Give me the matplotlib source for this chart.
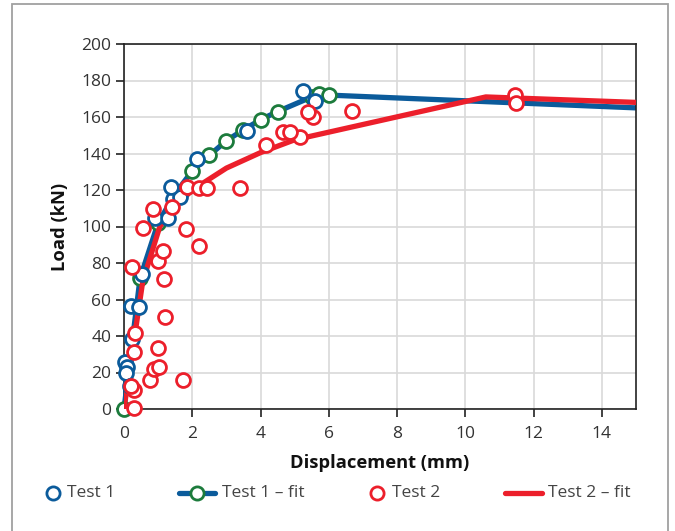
import matplotlib
matplotlib.use("Agg")
import matplotlib.pyplot as plt
from matplotlib.lines import Line2D
from matplotlib.patches import Rectangle

plt.rcParams['font.family'] = ['Open Sans', 'DejaVu Sans']

# Test 1 measured points
t1_x = [0.03, 0.10, 0.06, 0.18, 0.22, 0.20, 0.45, 0.52, 0.91, 1.30, 1.43, 1.64, 1.38, 2.15, 3.60, 5.23, 5.60]
t1_y = [25.6, 23.0, 19.5, 12.8, 38.4, 56.6, 56.0, 74.0, 104.5, 104.5, 115.0, 116.0, 121.8, 137.0, 152.5, 174.0, 169.0]

# Test 1 fit (line with markers), ending segment without marker
t1fit_x = [0.0, 0.47, 1.0, 1.5, 2.0, 2.5, 3.0, 3.5, 4.0, 4.5, 5.5, 5.7, 6.0]
t1fit_y = [0.0, 71.6, 102.0, 118.0, 130.5, 139.0, 147.0, 153.0, 158.5, 163.0, 171.0, 172.5, 172.0]
t1fit_end_x = [6.0, 15.0]
t1fit_end_y = [172.0, 165.0]

# Test 2 measured points
t2_x = [0.29, 0.29, 0.20, 0.76, 1.74, 0.89, 1.03, 0.29, 1.00, 0.32, 1.20, 1.18, 0.22, 1.00, 1.13,
        2.20, 1.82, 0.57, 0.84, 1.42, 1.84, 2.20, 2.44, 3.40, 4.16, 5.16, 4.67, 4.86, 5.53, 5.40,
        6.67, 11.46, 11.49]
t2_y = [0.7, 10.4, 12.6, 15.9, 15.9, 21.7, 23.2, 31.4, 33.2, 41.5, 50.6, 71.0, 78.0, 81.3, 86.8,
        89.3, 98.5, 99.4, 109.4, 110.9, 121.5, 121.0, 121.0, 121.0, 144.7, 149.2, 151.6, 151.6, 159.8, 162.6,
        163.5, 172.0, 167.8]

# Test 2 fit
t2fit_x = [0.0, 0.15, 0.32, 0.55, 1.05, 1.5, 2.0, 3.0, 4.0, 5.0, 10.6, 15.0]
t2fit_y = [0.0, 20.0, 41.0, 70.0, 100.0, 111.0, 120.0, 132.0, 140.5, 147.5, 171.0, 168.0]

legend_labels = ['Test 1', 'Test 1 \u2013 fit', 'Test 2', 'Test 2 \u2013 fit']

blue = '#0b5b9b'
green = '#1c7b3c'
red = '#ec1f2b'

W, H = 675, 531
fig = plt.figure(figsize=(W / 100, H / 100), dpi=100)
fig.patches.append(Rectangle((12 / W, -0.02), (668 - 12) / W, (H - 4) / H + 0.02,
                             transform=fig.transFigure, fill=False, edgecolor='#a0a0a0', lw=1.3))
ax = fig.add_axes([124 / W, (H - 409) / H, (636 - 124) / W, (409 - 44) / H])

ms = 10
mew = 2.0
lw = 3.8
ax.plot(t1fit_end_x, t1fit_end_y, color=blue, lw=lw, zorder=2, solid_capstyle='butt')
ax.plot(t1fit_x, t1fit_y, color=blue, lw=lw, marker='o', ms=ms, mfc='white', mec=green, mew=mew,
        zorder=3, clip_on=False)
ax.plot(t2fit_x, t2fit_y, color=red, lw=lw, zorder=4, solid_capstyle='butt')
ax.plot(t1_x, t1_y, ls='none', marker='o', ms=ms, mfc='white', mec=blue, mew=mew, zorder=5, clip_on=False)
ax.plot(t2_x, t2_y, ls='none', marker='o', ms=ms, mfc='white', mec=red, mew=mew, zorder=6, clip_on=False)

ax.set_xlim(0, 15)
ax.set_ylim(0, 200)
ax.set_xticks(range(0, 15, 2))
ax.set_yticks(range(0, 201, 20))
ax.grid(True, color='#d9d9d9', lw=1.2)
ax.set_axisbelow(True)
for s in ax.spines.values():
    s.set_color('#222222')
    s.set_linewidth(1.2)
ax.tick_params(direction='out', length=6, width=1.2, color='#222222', labelsize=12.5,
               labelcolor='#333333')
ax.tick_params(axis='x', pad=6)
ax.tick_params(axis='y', pad=3)

ax.set_xlabel('Displacement (mm)', fontsize=13.2, fontweight='bold', color='#111111', labelpad=9)
ax.set_ylabel('Load (kN)', fontsize=13.2, fontweight='bold', color='#111111', labelpad=9)

# Manual legend row
ly = (H - 493) / H
def fx(px):
    return px / W

fig.add_artist(Line2D([fx(53)], [ly], ls='none', marker='o', ms=9.5, mfc='white', mec=blue, mew=mew,
                      transform=fig.transFigure))
fig.add_artist(Line2D([fx(179), fx(215)], [ly, ly], color=blue, lw=lw, transform=fig.transFigure,
                      solid_capstyle='round'))
fig.add_artist(Line2D([fx(197)], [ly], ls='none', marker='o', ms=9.5, mfc='white', mec=green, mew=mew,
                      transform=fig.transFigure))
fig.add_artist(Line2D([fx(377)], [ly], ls='none', marker='o', ms=9.5, mfc='white', mec=red, mew=mew,
                      transform=fig.transFigure))
fig.add_artist(Line2D([fx(505), fx(542)], [ly, ly], color=red, lw=lw, transform=fig.transFigure,
                      solid_capstyle='round'))
for px, lab in zip([67, 222, 392, 548], legend_labels):
    fig.text(fx(px), ly, lab, fontsize=12.5, color='#444444', va='center', ha='left')

fig.savefig('out.png', dpi=100)
